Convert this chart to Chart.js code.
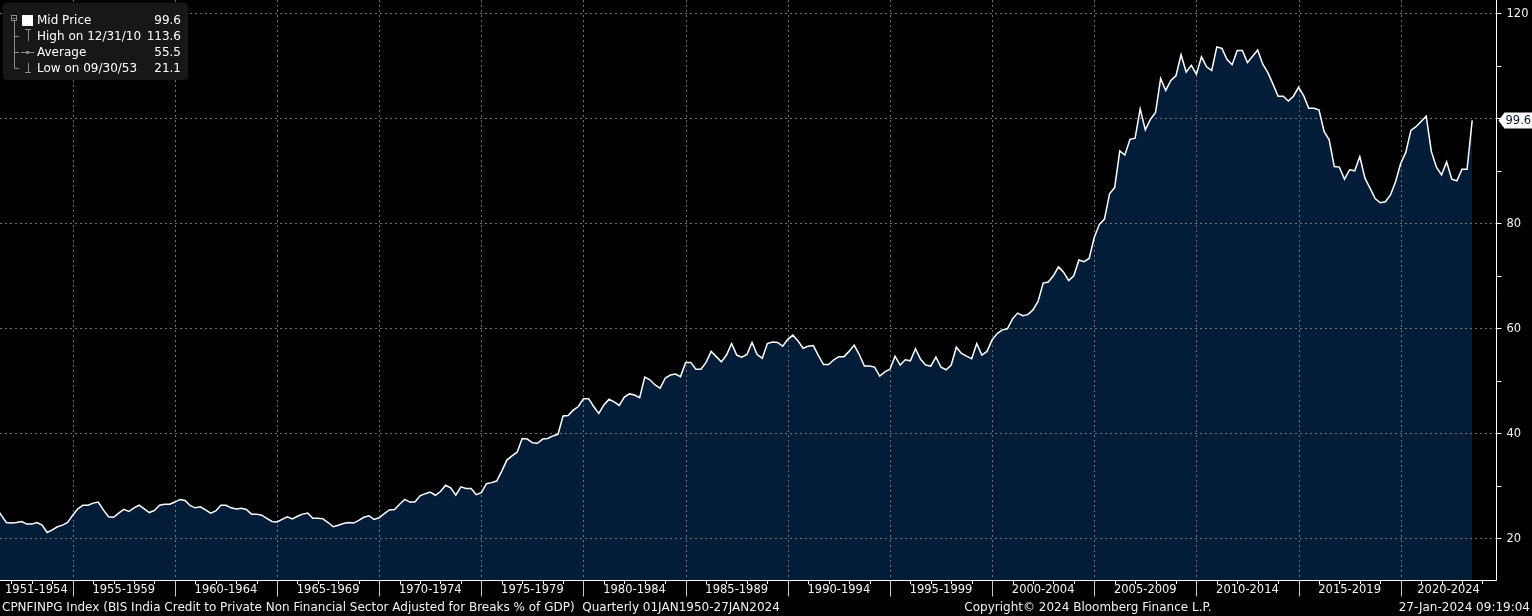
<!DOCTYPE html>
<html>
<head>
<meta charset="utf-8">
<title>CPNFINPG Index</title>
<script src="https://cdn.jsdelivr.net/npm/chart.js@4.4.1/dist/chart.umd.min.js"></script>
<style>
  html, body { margin: 0; padding: 0; background: #000; overflow: hidden; }
  #chart { display: block; }
</style>
</head>
<body>
<canvas id="chart" width="1532" height="616"></canvas>
<script>
// BIS India credit to private non financial sector, % of GDP, quarterly

const FONT = '"DejaVu Sans", Verdana, sans-serif';

// first observation is the quarter ending 31 Mar 1951, then one value per quarter
const firstQuarterEnd = 1951.25;

const values1950s = [25.8, 24.4, 23.0, 22.9, 23.0, 23.2, 22.7, 22.7, 23.0, 22.5,
  21.1, 21.6, 22.2, 22.5, 23.0, 24.4, 25.6, 26.3, 26.3, 26.7,
  26.9, 25.4, 24.1, 24.0, 24.8, 25.5, 25.1, 25.8, 26.3, 25.6,
  24.9, 25.3, 26.3, 26.5, 26.5, 26.9];
const values1960s = [27.4, 27.2, 26.2, 25.8, 26.0, 25.4, 24.8, 25.2, 26.3, 26.3,
  25.8, 25.6, 25.7, 25.5, 24.6, 24.6, 24.4, 23.8, 23.2, 23.1,
  23.6, 24.1, 23.7, 24.2, 24.6, 24.8, 23.8, 23.8, 23.7, 23.0,
  22.2, 22.5, 22.8, 23.0, 22.9, 23.4, 24.0, 24.3, 23.6, 23.9];
const values1970s = [24.7, 25.4, 25.5, 26.5, 27.4, 26.9, 26.9, 28.1, 28.5, 28.8,
  28.2, 28.9, 30.1, 29.6, 28.2, 29.8, 29.5, 29.5, 28.3, 28.7,
  30.4, 30.6, 30.9, 32.8, 34.9, 35.7, 36.4, 39.0, 38.9, 38.2,
  38.1, 38.9, 39.0, 39.5, 39.8, 43.3, 43.4, 44.4, 45.1, 46.6];
const values1980s = [46.6, 45.1, 43.8, 45.4, 46.5, 46.0, 45.3, 46.9, 47.5, 47.3,
  46.8, 50.7, 50.2, 49.2, 48.6, 50.5, 51.1, 51.3, 50.8, 53.5,
  53.5, 52.2, 52.2, 53.5, 55.6, 54.6, 53.6, 54.9, 57.1, 54.9,
  54.5, 55.0, 57.3, 55.0, 54.3, 57.1, 57.4, 57.3, 56.6, 57.9];
const values1990s = [58.7, 57.6, 56.2, 56.6, 56.7, 54.8, 53.1, 53.1, 54.0, 54.6,
  54.6, 55.6, 56.8, 55.0, 52.8, 52.8, 52.6, 50.9, 51.7, 52.2,
  54.7, 53.0, 54.0, 53.8, 56.1, 54.1, 53.0, 52.8, 54.5, 52.6,
  52.1, 53.0, 56.4, 55.2, 54.7, 54.2, 57.1, 54.9, 55.6, 57.8];
const values2000s = [59.0, 59.7, 59.9, 61.8, 62.9, 62.4, 62.6, 63.5, 65.1, 68.6,
  68.8, 70.0, 71.7, 70.7, 69.1, 70.0, 73.0, 72.7, 73.3, 77.3,
  79.8, 80.8, 85.6, 86.8, 93.8, 93.0, 96.0, 96.2, 101.8, 97.8,
  99.8, 101.1, 107.6, 105.3, 107.2, 108.1, 112.1, 108.8, 110.1, 108.4];
const values2010s = [111.7, 109.8, 109.1, 113.6, 113.3, 111.2, 110.2, 112.9, 112.9, 110.6,
  111.8, 113.0, 110.3, 108.7, 106.5, 104.2, 104.2, 103.3, 104.2, 105.9,
  104.3, 101.9, 101.9, 101.6, 97.5, 95.9, 90.8, 90.7, 88.4, 90.2,
  90.0, 92.7, 88.6, 86.7, 84.7, 83.9, 84.1, 85.4, 87.9, 91.4];
const values2020s = [93.5, 97.7, 98.4, 99.4, 100.4, 93.7, 90.7, 89.2, 91.7, 88.4,
  88.1, 90.3, 90.3, 99.6];

// x axis: five year bands
const periodStarts = [1950, 1955, 1960, 1965, 1970, 1975, 1980, 1985, 1990, 1995, 2000, 2005, 2010, 2015, 2020];
const periodLabels = ['1951-1954', '1955-1959', '1960-1964', '1965-1969', '1970-1974', '1975-1979', '1980-1984',
  '1985-1989', '1990-1994', '1995-1999', '2000-2004', '2005-2009', '2010-2014', '2015-2019', '2020-2024'];

// y axis
const yGridValues = [20, 40, 60, 80, 100, 120];
const yTickLabels = ['20', '40', '60', '80', '', '120'];
const yMinorValues = [30, 50, 70, 90, 110];

// legend box
const legendNames = ['Mid Price', 'High on 12/31/10', 'Average', 'Low on 09/30/53'];
const legendValues = ['99.6', '113.6', '55.5', '21.1'];
const lastValueLabel = '99.6';

const footerLeft = 'CPNFINPG Index (BIS India Credit to Private Non Financial Sector Adjusted for Breaks % of GDP)  Quarterly 01JAN1950-27JAN2024';
const footerMid = 'Copyright\u00A9 2024 Bloomberg Finance L.P.';
const footerRight = '27-Jan-2024 09:19:04';

const seriesValues = [].concat(values1950s, values1960s, values1970s, values1980s,
  values1990s, values2000s, values2010s, values2020s);
const points = seriesValues.map((v, i) => ({ x: firstQuarterEnd + i * 0.25, y: v }));

const NAVY = '#031d39';
const GRID = 'rgba(150, 150, 150, 0.75)';

function drawGrid(chart) {
  const ctx = chart.ctx;
  const area = chart.chartArea;
  const xs = chart.scales.x;
  const ys = chart.scales.y;
  ctx.save();
  ctx.beginPath();
  ctx.rect(area.left, area.top, area.right - area.left, area.bottom - area.top);
  ctx.clip();
  ctx.strokeStyle = GRID;
  ctx.lineWidth = 1;
  ctx.setLineDash([2, 3]);
  periodStarts.forEach(yr => {
    const px = Math.round(xs.getPixelForValue(yr)) + 0.5;
    if (px <= area.left + 1 || px >= area.right - 1) return;
    ctx.beginPath();
    ctx.moveTo(px, area.top);
    ctx.lineTo(px, area.bottom);
    ctx.stroke();
  });
  yGridValues.forEach(v => {
    const py = Math.round(ys.getPixelForValue(v)) + 0.5;
    ctx.beginPath();
    ctx.moveTo(area.left, py);
    ctx.lineTo(area.right, py);
    ctx.stroke();
  });
  ctx.restore();
}

function drawAxes(chart) {
  const ctx = chart.ctx;
  const area = chart.chartArea;
  const xs = chart.scales.x;
  const ys = chart.scales.y;
  ctx.save();

  // x axis line and year ticks
  ctx.strokeStyle = '#ffffff';
  ctx.lineWidth = 1;
  ctx.beginPath();
  ctx.moveTo(0, area.bottom);
  ctx.lineTo(area.right, area.bottom);
  ctx.stroke();

  for (let yr = Math.ceil(xs.min); yr <= xs.max; yr++) {
    const px = Math.round(xs.getPixelForValue(yr)) + 0.5;
    const isBand = periodStarts.includes(yr);
    ctx.strokeStyle = isBand ? '#c8c8c8' : '#ffffff';
    ctx.beginPath();
    ctx.moveTo(px, area.bottom);
    ctx.lineTo(px, area.bottom + (isBand ? 16 : 3.5));
    ctx.stroke();
  }

  ctx.font = '11.5px ' + FONT;
  ctx.textAlign = 'center';
  ctx.textBaseline = 'middle';
  ctx.fillStyle = '#f2f2f2';
  periodStarts.forEach((yr, i) => {
    const a = Math.max(area.left, xs.getPixelForValue(yr));
    const b = Math.min(area.right, xs.getPixelForValue(yr + 5));
    ctx.fillText(periodLabels[i], (a + b) / 2, area.bottom + 10);
  });

  // y axis on the right
  ctx.strokeStyle = '#ffffff';
  ctx.beginPath();
  ctx.moveTo(area.right, 0);
  ctx.lineTo(area.right, area.bottom);
  ctx.stroke();

  yGridValues.concat(yMinorValues).forEach(v => {
    const py = Math.round(ys.getPixelForValue(v)) + 0.5;
    ctx.beginPath();
    ctx.moveTo(area.right, py);
    ctx.lineTo(area.right + 5, py);
    ctx.stroke();
  });

  ctx.textAlign = 'left';
  ctx.fillStyle = '#f2f2f2';
  yGridValues.forEach((v, i) => {
    if (!yTickLabels[i]) return;
    const py = ys.getPixelForValue(v);
    ctx.fillText(yTickLabels[i], area.right + 10, py + 1);
  });

  // last value marker
  const lastY = ys.getPixelForValue(seriesValues[seriesValues.length - 1]);
  const mx = area.right + 2;
  ctx.fillStyle = '#ffffff';
  ctx.beginPath();
  ctx.moveTo(mx, lastY);
  ctx.lineTo(mx + 6, lastY - 8);
  ctx.lineTo(1532, lastY - 8);
  ctx.lineTo(1532, lastY + 8);
  ctx.lineTo(mx + 6, lastY + 8);
  ctx.closePath();
  ctx.fill();
  ctx.fillStyle = '#0a1a2e';
  ctx.fillText(lastValueLabel, mx + 7, lastY + 1);

  ctx.restore();
}

function drawLegend(chart) {
  const ctx = chart.ctx;
  ctx.save();
  ctx.fillStyle = '#171717';
  ctx.beginPath();
  ctx.roundRect(3, 3, 185, 77, 4);
  ctx.fill();

  const rowY = [20.5, 36.5, 52.5, 68.5];

  // tree lines
  ctx.strokeStyle = '#8c8c8c';
  ctx.lineWidth = 1;
  ctx.strokeRect(11.5, 15.5, 5, 5);
  ctx.beginPath();
  ctx.moveTo(12.5, 18.5); ctx.lineTo(15.5, 18.5);
  ctx.moveTo(14.5, 21); ctx.lineTo(14.5, rowY[3]);
  [1, 2, 3].forEach(i => { ctx.moveTo(14.5, rowY[i]); ctx.lineTo(19, rowY[i]); });
  // high marker
  ctx.moveTo(25, 29.5); ctx.lineTo(31, 29.5);
  ctx.moveTo(28.5, 29.5); ctx.lineTo(28.5, 41);
  // average marker
  ctx.moveTo(21, rowY[2]); ctx.lineTo(34, rowY[2]);
  // low marker
  ctx.moveTo(28.5, 63); ctx.lineTo(28.5, 72.5);
  ctx.moveTo(25, 72.5); ctx.lineTo(31, 72.5);
  ctx.stroke();
  ctx.fillStyle = '#8c8c8c';
  ctx.beginPath();
  ctx.arc(27.5, rowY[2], 1.8, 0, Math.PI * 2);
  ctx.fill();

  ctx.fillStyle = '#ffffff';
  ctx.fillRect(22, 15, 11, 11);

  ctx.font = '12px ' + FONT;
  ctx.textBaseline = 'middle';
  legendNames.forEach((name, i) => {
    ctx.textAlign = 'left';
    ctx.fillText(name, 37, rowY[i]);
    ctx.textAlign = 'right';
    ctx.fillText(legendValues[i], 181, rowY[i]);
  });
  ctx.restore();
}

function drawFooter(chart) {
  const ctx = chart.ctx;
  ctx.save();
  ctx.font = '12px ' + FONT;
  ctx.fillStyle = '#f2f2f2';
  ctx.textBaseline = 'middle';
  ctx.textAlign = 'left';
  ctx.fillText(footerLeft, 2, 607.5);
  ctx.textAlign = 'center';
  ctx.fillText(footerMid, 1088, 607.5);
  ctx.textAlign = 'right';
  ctx.fillText(footerRight, 1530, 607.5);
  ctx.restore();
}

const bloombergLook = {
  id: 'bloombergLook',
  beforeDraw(chart) {
    const ctx = chart.ctx;
    ctx.save();
    ctx.fillStyle = '#000000';
    ctx.fillRect(0, 0, chart.width, chart.height);
    ctx.restore();
  },
  afterDatasetDraw(chart, args) {
    // grid sits on top of the area fill but under the white line
    if (args.index === 1) drawGrid(chart);
  },
  afterDraw(chart) {
    drawAxes(chart);
    drawLegend(chart);
    drawFooter(chart);
  }
};

new Chart(document.getElementById('chart'), {
  type: 'line',
  data: {
    datasets: [
      {
        label: 'Mid Price',
        data: points,
        borderColor: '#ffffff',
        borderWidth: 1.5,
        pointRadius: 0,
        tension: 0,
        fill: false
      },
      {
        label: 'area',
        data: points,
        borderWidth: 0,
        borderColor: 'rgba(0,0,0,0)',
        backgroundColor: NAVY,
        pointRadius: 0,
        tension: 0,
        fill: 'start'
      }
    ]
  },
  options: {
    responsive: false,
    animation: false,
    devicePixelRatio: 1,
    layout: { padding: { left: 0, top: 0, right: 35.5, bottom: 35.5 } },
    plugins: {
      legend: { display: false },
      tooltip: { enabled: false }
    },
    scales: {
      x: { type: 'linear', display: false, min: 1951.44, max: 2024.69 },
      y: { type: 'linear', display: false, position: 'right', min: 11.96, max: 122.53 }
    }
  },
  plugins: [bloombergLook]
});
</script>
</body>
</html>
